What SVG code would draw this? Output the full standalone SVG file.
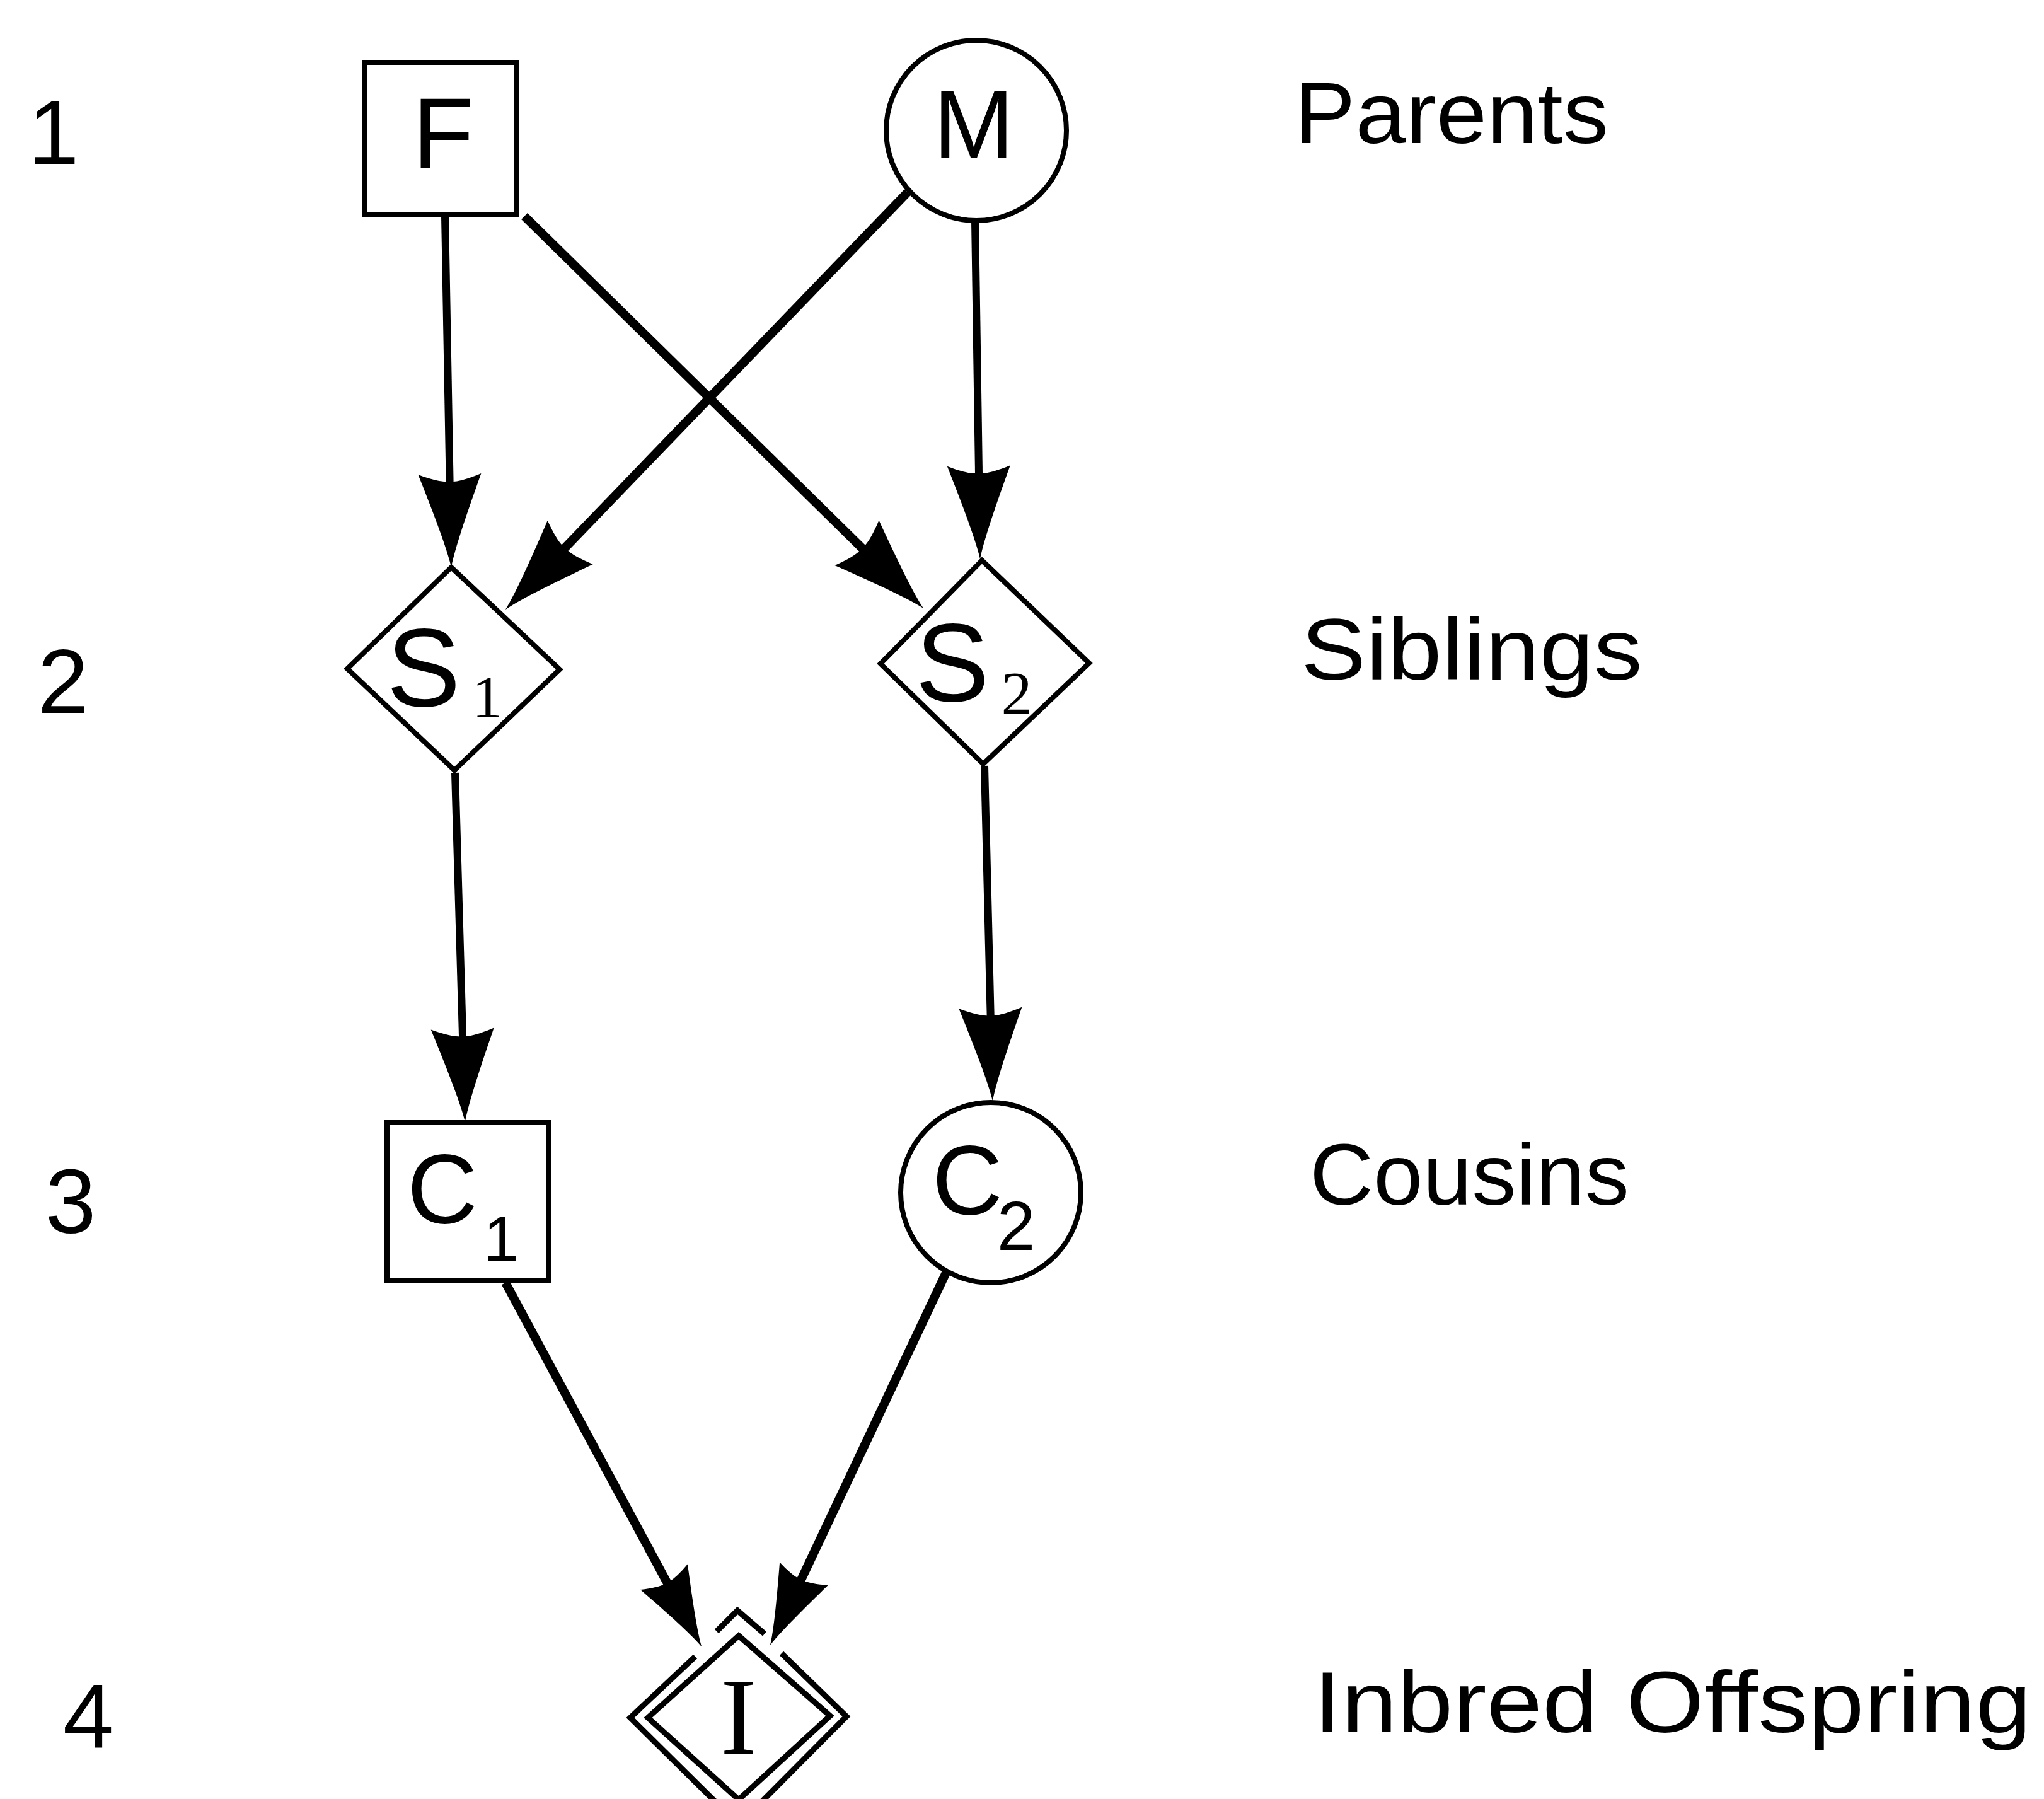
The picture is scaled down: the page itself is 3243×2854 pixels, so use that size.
<svg xmlns="http://www.w3.org/2000/svg" width="3243" height="2854" viewBox="0 0 3243 2854">
<style>
.node{fill:#fff;stroke:#000;stroke-width:8;stroke-linejoin:miter}
.lbl{font-family:"Liberation Sans",Arial,sans-serif;fill:#000}
.ser{font-family:"Liberation Serif","Times New Roman",serif;fill:#000}
.edge{stroke:#000;fill:none;stroke-linecap:butt}
.v{stroke-width:12}
.d{stroke-width:14}
</style>
<defs>
<marker id="ah" markerUnits="userSpaceOnUse" viewBox="-160 -60 170 120" markerWidth="170" markerHeight="120" refX="-130" refY="0" orient="auto" overflow="visible">
<path d="M0,0 C-30,-6 -95,-30 -148,-50 C-140,-30 -136,-14 -136,-6 L-136,6 C-136,14 -140,30 -148,50 C-95,30 -30,6 0,0 Z" fill="#000"/>
</marker>
<marker id="ahs" markerUnits="userSpaceOnUse" viewBox="-160 -60 170 120" markerWidth="144.5" markerHeight="102" refX="-130" refY="0" orient="auto" overflow="visible">
<path d="M0,0 C-30,-6 -95,-30 -148,-50 C-140,-30 -136,-14 -136,-6 L-136,6 C-136,14 -140,30 -148,50 C-95,30 -30,6 0,0 Z" fill="#000"/>
</marker>
</defs>
<rect width="3243" height="2854" fill="#fff"/>

<g id="connectors">
<line class="edge v" x1="706" y1="342" x2="713.7" y2="770" marker-end="url(#ah)"/>
<line class="edge d" x1="1440" y1="305" x2="892.2" y2="873.4" marker-end="url(#ah)"/>
<line class="edge d" x1="832" y1="343" x2="1372.3" y2="873.9" marker-end="url(#ah)"/>
<line class="edge v" x1="1547" y1="350" x2="1553.1" y2="757" marker-end="url(#ah)"/>
<line class="edge v" x1="722" y1="1226" x2="734.2" y2="1650" marker-end="url(#ah)"/>
<line class="edge v" x1="1562" y1="1215" x2="1571.8" y2="1617" marker-end="url(#ah)"/>
<line class="edge d" x1="802" y1="2035" x2="1060.8" y2="2515.2" marker-end="url(#ahs)"/>
<line class="edge d" x1="1502" y1="2017" x2="1269" y2="2510.5" marker-end="url(#ahs)"/>
</g>

<g id="node-F">
<rect class="node" x="578" y="99" width="242" height="241"/>
<text class="lbl" x="703" y="267" font-size="159" text-anchor="middle">F</text>
</g>
<g id="node-M">
<circle class="node" cx="1549" cy="207" r="143"/>
<text class="lbl" x="1545" y="250" font-size="154" text-anchor="middle">M</text>
</g>
<g id="node-S1">
<polygon class="node" points="716,900 888,1062 721,1222 551,1061"/>
<text class="lbl" x="672" y="1120" font-size="176" text-anchor="middle">S</text>
<text class="ser" x="773" y="1138" font-size="96" text-anchor="middle">1</text>
</g>
<g id="node-S2">
<polygon class="node" points="1558,889 1728,1052 1560,1212 1397,1053"/>
<text class="lbl" x="1511" y="1112" font-size="176" text-anchor="middle">S</text>
<text class="ser" x="1613" y="1133" font-size="98" text-anchor="middle">2</text>
</g>
<g id="node-C1">
<rect class="node" x="614" y="1781" width="256" height="251"/>
<text class="lbl" x="702" y="1940" font-size="155" text-anchor="middle">C</text>
<text class="lbl" x="795" y="2000" font-size="100" text-anchor="middle">1</text>
</g>
<g id="node-C2">
<circle class="node" cx="1572" cy="1892" r="143"/>
<text class="lbl" x="1535" y="1926" font-size="155" text-anchor="middle">C</text>
<text class="lbl" x="1612" y="1983" font-size="109" text-anchor="middle">2</text>
</g>
<g id="node-I">
<path d="M1103,2628 L1000,2725 L1172,2895 L1343,2723 L1240,2623" fill="none" stroke="#000" stroke-width="9"/>
<path d="M1137,2588 L1170,2555 L1213,2592" fill="none" stroke="#000" stroke-width="9"/>
<polygon points="1172,2595 1317,2722 1172,2855 1028,2725" fill="#fff" stroke="#000" stroke-width="9"/>
<text class="ser" x="1172" y="2782" font-size="174" text-anchor="middle">I</text>
</g>

<g id="generation-numbers">
<text class="lbl" x="85" y="260" font-size="145" text-anchor="middle">1</text>
<text class="lbl" x="100" y="1131" font-size="145" text-anchor="middle">2</text>
<text class="lbl" x="112" y="1956" font-size="145" text-anchor="middle">3</text>
<text class="lbl" x="140" y="2773" font-size="145" text-anchor="middle">4</text>
</g>

<g id="generation-labels">
<text class="lbl" x="2054" y="227" font-size="138" textLength="498" lengthAdjust="spacingAndGlyphs">Parents</text>
<text class="lbl" x="2064" y="1078" font-size="138" textLength="542" lengthAdjust="spacingAndGlyphs">Siblings</text>
<text class="lbl" x="2078" y="1911" font-size="138" textLength="507" lengthAdjust="spacingAndGlyphs">Cousins</text>
<text class="lbl" x="2084" y="2748" font-size="138" textLength="1139" lengthAdjust="spacingAndGlyphs">Inbred Offspring</text>
</g>
</svg>
